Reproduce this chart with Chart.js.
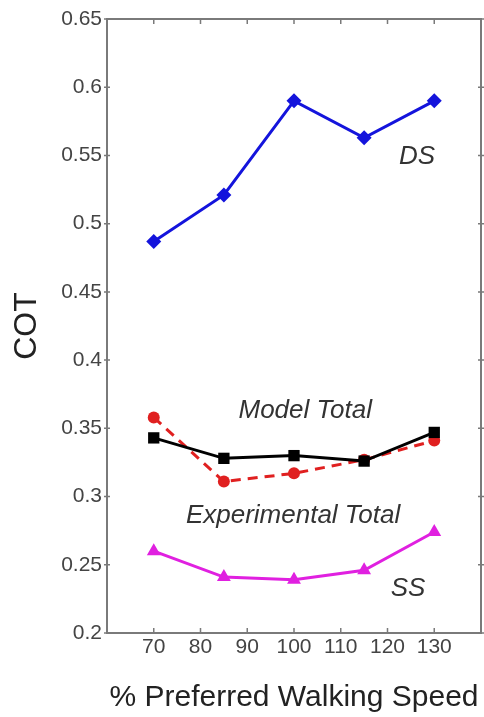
<!DOCTYPE html>
<html>
<head>
<meta charset="utf-8">
<script src="https://cdn.jsdelivr.net/npm/chart.js@4/dist/chart.umd.min.js"></script>
<style>
  html, body { margin: 0; padding: 0; background: #fff; }
  #wrap { width: 484px; height: 717px; }
</style>
</head>
<body>
<div id="wrap"><canvas id="c" width="484" height="717"></canvas></div>
<script>
// ---- data ----
const speeds = [70, 85, 100, 115, 130];
const dsValues = [0.487, 0.521, 0.590, 0.563, 0.590];
const modelTotal = [0.343, 0.328, 0.330, 0.326, 0.347];
const experimentalTotal = [0.358, 0.311, 0.317, 0.327, 0.341];
const ssValues = [0.260, 0.241, 0.239, 0.246, 0.274];

const xTickLabels = [70, 80, 90, 100, 110, 120, 130];
const yTickLabels = [0.2, 0.25, 0.3, 0.35, 0.4, 0.45, 0.5, 0.55, 0.6, 0.65];

const annotationTexts = ['DS', 'Model Total', 'Experimental Total', 'SS'];
const annotationX = [126.3, 102.4, 99.8, 124.4];
const annotationY = [0.549, 0.3627, 0.2857, 0.2322];

const toPoints = (vals) => speeds.map((s, i) => ({ x: s, y: vals[i] }));

const FONT = '"Liberation Sans", Arial, sans-serif';

const framePlugin = {
  id: 'frameAndTicks',
  afterDatasetsDraw(chart) {
    const { ctx, chartArea: a, scales } = chart;
    const xs = scales.x, ys = scales.y;
    ctx.save();
    ctx.strokeStyle = '#7a7a7a';
    ctx.lineWidth = 2;
    ctx.strokeRect(a.left, a.top, a.right - a.left, a.bottom - a.top);
    ctx.lineWidth = 1.5;
    ctx.beginPath();
    xTickLabels.forEach(v => {
      const px = xs.getPixelForValue(v);
      ctx.moveTo(px, a.bottom); ctx.lineTo(px, a.bottom - 5);
      ctx.moveTo(px, a.top); ctx.lineTo(px, a.top + 5);
    });
    yTickLabels.forEach(v => {
      const py = ys.getPixelForValue(v);
      ctx.moveTo(a.left - 3, py); ctx.lineTo(a.left + 3, py);
      ctx.moveTo(a.right - 3, py); ctx.lineTo(a.right + 3, py);
    });
    ctx.stroke();
    ctx.fillStyle = '#333';
    ctx.font = 'italic 26px ' + FONT;
    ctx.textAlign = 'center';
    ctx.textBaseline = 'middle';
    annotationTexts.forEach((t, i) => {
      ctx.fillText(t, xs.getPixelForValue(annotationX[i]), ys.getPixelForValue(annotationY[i]));
    });
    ctx.restore();
  }
};

new Chart(document.getElementById('c'), {
  type: 'line',
  data: {
    datasets: [
      {
        label: 'DS', data: toPoints(dsValues),
        borderColor: '#1414dc', backgroundColor: '#1414dc',
        borderWidth: 3, pointStyle: 'rectRot', pointRadius: 7.5, pointBorderWidth: 0
      },
      {
        label: 'Model Total', data: toPoints(modelTotal),
        borderColor: '#000', backgroundColor: '#000',
        borderWidth: 3, pointStyle: 'rect', pointRadius: 8, pointBorderWidth: 0
      },
      {
        label: 'Experimental Total', data: toPoints(experimentalTotal),
        borderColor: '#e02020', backgroundColor: '#e02020',
        borderWidth: 3, borderDash: [10, 7], pointStyle: 'circle', pointRadius: 6, pointBorderWidth: 0
      },
      {
        label: 'SS', data: toPoints(ssValues),
        borderColor: '#e020e0', backgroundColor: '#e020e0',
        borderWidth: 3, pointStyle: 'triangle', pointRadius: 8, pointBorderWidth: 0
      }
    ]
  },
  options: {
    responsive: false,
    animation: false,
    devicePixelRatio: 1,
    layout: { autoPadding: false, padding: { top: 19, right: 3, left: 0, bottom: 0 } },
    plugins: { legend: { display: false }, tooltip: { enabled: false } },
    elements: { line: { tension: 0 } },
    scales: {
      x: {
        type: 'linear', min: 60, max: 140,
        afterBuildTicks: (s) => { s.ticks = [60].concat(xTickLabels, [140]).map(v => ({ value: v })); },
        afterFit: (s) => { s.height = 84; s.paddingLeft = 0; s.paddingRight = 0; },
        ticks: {
          autoSkip: false, maxRotation: 0, padding: 2,
          color: '#444', font: { family: FONT, size: 21 },
          callback: (v) => (xTickLabels.includes(v) ? String(v) : '')
        },
        grid: { display: false, drawTicks: false },
        border: { display: false },
        title: {
          display: true, text: '% Preferred Walking Speed',
          color: '#222', font: { family: FONT, size: 30 }, padding: { top: 0, bottom: 1 }
        }
      },
      y: {
        type: 'linear', min: 0.2, max: 0.65,
        afterBuildTicks: (s) => { s.ticks = yTickLabels.map(v => ({ value: v })); },
        afterFit: (s) => { s.width = 107; },
        ticks: {
          padding: 5, color: '#444', font: { family: FONT, size: 21 },
          callback: (v) => String(Math.round(v * 100) / 100)
        },
        grid: { display: false, drawTicks: false },
        border: { display: false },
        title: {
          display: true, text: 'COT',
          color: '#222', font: { family: FONT, size: 32 }, padding: { top: 8, bottom: 0 }
        }
      }
    }
  },
  plugins: [framePlugin]
});
</script>
</body>
</html>
